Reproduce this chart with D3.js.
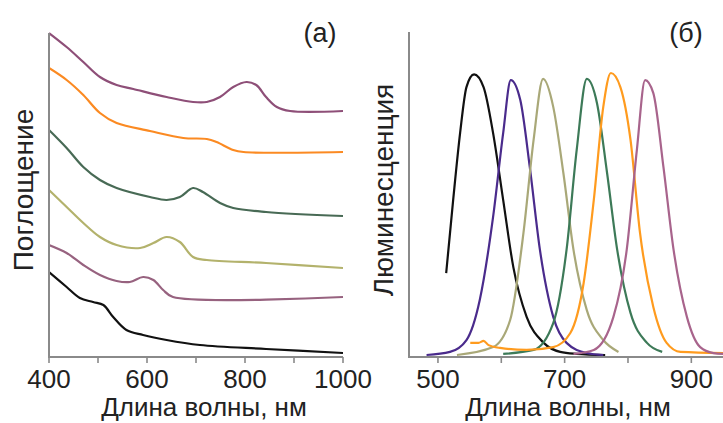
<!DOCTYPE html>
<html>
<head>
<meta charset="utf-8">
<script src="https://cdn.jsdelivr.net/npm/d3@7"></script>
<style>
  body { margin: 0; background: #fff; }
  text { font-family: "Liberation Sans", Arial, sans-serif; fill: #222; }
</style>
</head>
<body>
<script>
//absorption spectra (left panel), offset in absorbance units
var absNm1 = [400, 436, 470, 504, 538, 572, 640, 694, 722, 749, 776, 803, 823, 843, 865, 892, 1000];
var absVal1 = [3.24, 3.10, 2.95, 2.80, 2.72, 2.68, 2.60, 2.55, 2.55, 2.60, 2.70, 2.75, 2.72, 2.60, 2.50, 2.46, 2.46];
var absNm2 = [400, 436, 470, 504, 538, 606, 674, 722, 742, 776, 797, 1000];
var absVal2 = [2.89, 2.77, 2.62, 2.44, 2.34, 2.26, 2.19, 2.18, 2.15, 2.07, 2.05, 2.05];
var absNm3 = [400, 436, 470, 504, 538, 606, 640, 667, 694, 714, 749, 776, 843, 1000];
var absVal3 = [2.27, 2.09, 1.90, 1.77, 1.69, 1.60, 1.57, 1.60, 1.69, 1.65, 1.54, 1.49, 1.45, 1.41];
var absNm4 = [400, 436, 470, 504, 538, 586, 613, 640, 667, 694, 722, 843, 1000];
var absVal4 = [1.67, 1.50, 1.34, 1.20, 1.12, 1.09, 1.14, 1.20, 1.15, 1.00, 0.97, 0.94, 0.89];
var absNm5 = [400, 436, 470, 504, 538, 565, 592, 613, 633, 653, 1000];
var absVal5 = [1.12, 1.04, 0.92, 0.82, 0.76, 0.75, 0.80, 0.77, 0.67, 0.60, 0.60];
var absNm6 = [400, 436, 463, 490, 511, 531, 558, 592, 640, 708, 843, 1000];
var absVal6 = [0.85, 0.70, 0.59, 0.55, 0.52, 0.40, 0.27, 0.22, 0.17, 0.12, 0.08, 0.04];
var absColors = ["#8e4f78", "#fb8a22", "#486a55", "#b3b26c", "#97627f", "#111111"];

//luminescence spectra (right panel), normalised intensity
var lumNm1 = [513, 524, 535, 545, 557, 572, 587, 603, 619, 640, 667, 693, 719, 764];
var lumVal1 = [29.7, 55.5, 79.3, 95.5, 100, 95.5, 79.3, 55.5, 31.8, 14.2, 5.0, 1.8, 1.1, 0.7];
var lumNm2 = [482, 519, 545, 566, 587, 603, 615, 630, 645, 661, 682, 703, 735, 761];
var lumVal2 = [0.7, 1.8, 6.0, 20.2, 49.5, 79.3, 98.0, 90.9, 67.2, 37.9, 14.2, 5.0, 1.4, 0.7];
var lumNm3 = [530, 587, 614, 635, 651, 666, 682, 698, 714, 735, 761, 785];
var lumVal3 = [0.7, 3.5, 13.1, 43.9, 76.8, 98.4, 88.5, 65.1, 37.9, 16.6, 6.0, 1.8];
var lumNm4 = [603, 651, 682, 703, 719, 735, 751, 767, 783, 804, 830, 854];
var lumVal4 = [1.1, 2.5, 12.0, 37.9, 73.2, 98.4, 89.9, 65.1, 37.9, 15.6, 5.0, 1.8];
var lumNm5 = [551, 564, 572, 580, 598, 640, 682, 709, 730, 746, 761, 773, 788, 804, 819, 840, 861, 883, 950];
var lumVal5 = [5.0, 5.0, 5.7, 4.2, 3.2, 2.5, 3.5, 8.5, 26.2, 55.5, 88.5, 100.5, 95.5, 76.8, 43.9, 17.7, 5.0, 1.8, 1.4];
var lumNm6 = [714, 746, 777, 798, 814, 827, 840, 856, 872, 893, 914, 935, 950];
var lumVal6 = [1.1, 2.5, 14.2, 37.9, 73.2, 98.0, 93.4, 67.2, 37.9, 14.2, 3.5, 1.4, 1.1];
var lumColors = ["#111111", "#4a2b8c", "#a9a878", "#3d7a58", "#ff9b1e", "#a8648c"];

var absTicks = [400, 600, 800, 1000];
var absMinorTicks = [400, 500, 600, 700, 800, 900, 1000];
var lumTicks = [500, 700, 900];
var lumMinorTicks = [500, 600, 700, 800, 900];

var width = 723, height = 423;
var svg = d3.select("body").append("svg")
    .attr("width", width)
    .attr("height", height);

//pair up x and y arrays
function zipSeries(xs, ys) {
    return xs.map(function (x, i) { return [x, ys[i]]; });
}

function drawPanel(opts) {
    var x = d3.scaleLinear().domain(opts.xDomain).range(opts.xRange);
    var y = d3.scaleLinear().domain(opts.yDomain).range(opts.yRange);
    var g = svg.append("g");

    g.append("defs").append("clipPath").attr("id", opts.id)
        .append("rect")
        .attr("x", opts.xRange[0]).attr("y", 0)
        .attr("width", opts.xRange[1] - opts.xRange[0]).attr("height", opts.yRange[0]);

    var line = d3.line()
        .x(function (d) { return x(d[0]); })
        .y(function (d) { return y(d[1]); })
        .curve(opts.curve);

    //curves
    g.append("g").attr("clip-path", "url(#" + opts.id + ")")
        .selectAll("path")
        .data(opts.series)
        .enter()
        .append("path")
        .attr("d", function (d) { return line(d); })
        .attr("fill", "none")
        .attr("stroke", function (d, i) { return opts.colors[i]; })
        .attr("stroke-width", 2.2)
        .attr("stroke-linejoin", "round");

    //axes
    var grey = "#8a8a8a";
    g.append("line")
        .attr("x1", opts.xRange[0]).attr("x2", opts.xRange[0])
        .attr("y1", opts.yRange[0] + 1).attr("y2", opts.yRange[1])
        .attr("stroke", grey).attr("stroke-width", 2);
    g.append("line")
        .attr("x1", opts.xRange[0] - 1).attr("x2", opts.xRange[1])
        .attr("y1", opts.yRange[0]).attr("y2", opts.yRange[0])
        .attr("stroke", grey).attr("stroke-width", 2);

    g.selectAll(".tick")
        .data(opts.minorTicks)
        .enter()
        .append("line")
        .attr("x1", function (d) { return x(d); })
        .attr("x2", function (d) { return x(d); })
        .attr("y1", opts.yRange[0])
        .attr("y2", opts.yRange[0] + 6)
        .attr("stroke", grey).attr("stroke-width", 1.6);

    g.selectAll(".tickLabel")
        .data(opts.ticks)
        .enter()
        .append("text")
        .attr("x", function (d) { return x(d); })
        .attr("y", 388)
        .attr("text-anchor", "middle")
        .style("font-size", "26px")
        .text(function (d) { return d; });

    g.append("text")
        .attr("x", opts.xLabelX)
        .attr("y", 416)
        .attr("text-anchor", "middle")
        .style("font-size", "26px")
        .text("Длина волны, нм");

    g.append("text")
        .attr("transform", "translate(" + opts.yLabelX + ",190) rotate(-90)")
        .attr("text-anchor", "middle")
        .style("font-size", "28px")
        .text(opts.yLabel);

    g.append("text")
        .attr("x", opts.tagX)
        .attr("y", 42)
        .attr("text-anchor", "middle")
        .style("font-size", "27px")
        .text(opts.tag);
}

drawPanel({
    id: "clipA",
    xDomain: [400, 1000], xRange: [49, 343],
    yDomain: [0, 3.24], yRange: [357, 33],
    curve: d3.curveCatmullRom.alpha(0.5),
    series: [
        zipSeries(absNm1, absVal1), zipSeries(absNm2, absVal2), zipSeries(absNm3, absVal3),
        zipSeries(absNm4, absVal4), zipSeries(absNm5, absVal5), zipSeries(absNm6, absVal6)
    ],
    colors: absColors,
    ticks: absTicks, minorTicks: absMinorTicks,
    xLabelX: 204, yLabelX: 33, yLabel: "Поглощение",
    tagX: 320, tag: "(а)"
});

drawPanel({
    id: "clipB",
    xDomain: [454.3, 950], xRange: [409, 723],
    yDomain: [0, 115], yRange: [357, 32],
    curve: d3.curveMonotoneX,
    series: [
        zipSeries(lumNm1, lumVal1), zipSeries(lumNm2, lumVal2), zipSeries(lumNm3, lumVal3),
        zipSeries(lumNm4, lumVal4), zipSeries(lumNm5, lumVal5), zipSeries(lumNm6, lumVal6)
    ],
    colors: lumColors,
    ticks: lumTicks, minorTicks: lumMinorTicks,
    xLabelX: 568, yLabelX: 393, yLabel: "Люминесценция",
    tagX: 686, tag: "(б)"
});
</script>
</body>
</html>
